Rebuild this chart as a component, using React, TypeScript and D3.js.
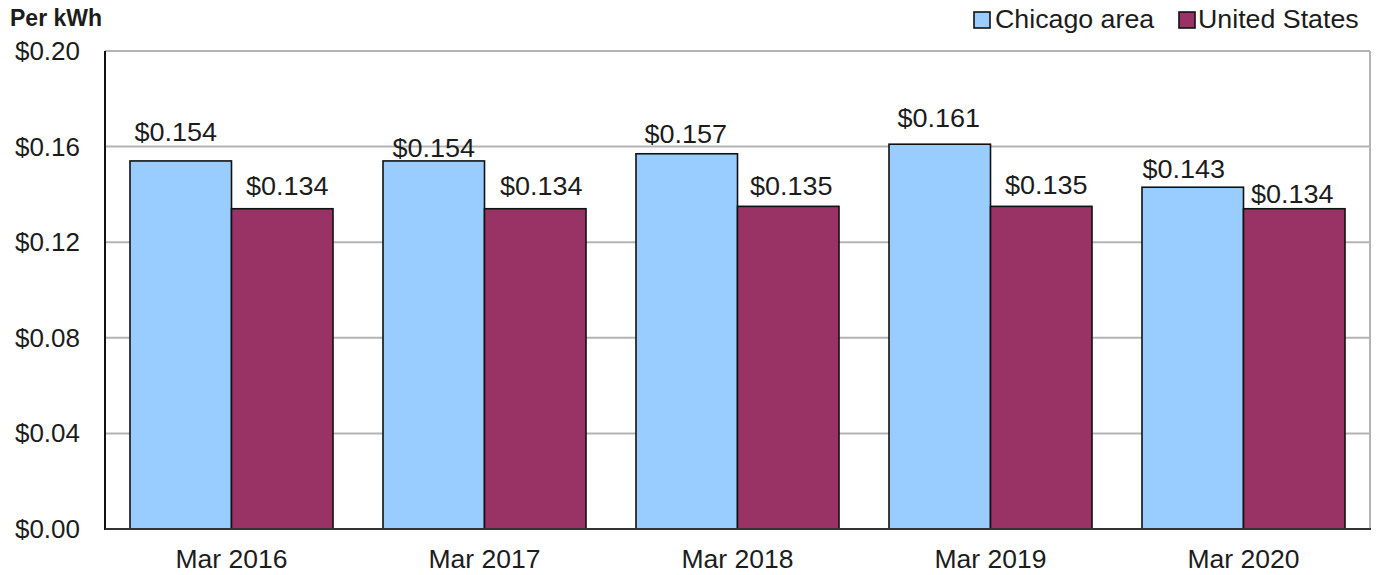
import React from "react";
import * as d3 from "d3";

const categories = ["Mar 2016", "Mar 2017", "Mar 2018", "Mar 2019", "Mar 2020"];
const seriesNames = ["Chicago area", "United States"];
const chicago = [0.154, 0.154, 0.157, 0.161, 0.143];
const unitedStates = [0.134, 0.134, 0.135, 0.135, 0.134];
const yTicks = [0, 0.04, 0.08, 0.12, 0.16, 0.2];

// label placement nudges (style only): [dx, dy above bar top]
const chicagoNudge = [[-5, -20], [0, -4], [-1, -11], [-1, -17], [-9, -9]];
const usNudge = [[5, -14], [6, -14], [3, -11], [5, -12], [-2, -6]];

const colors = ["#99CCFF", "#993366"];
const W = 1377, H = 575;
const left = 105, right = 1370, top = 51, bottom = 529;
const FONT = "'Liberation Sans', Arial, sans-serif";
const TXT = "#1c1c1c";

export default function App() {
  const x0 = d3.scaleBand<string>().domain(categories).range([left, right]).padding(0);
  const bw = x0.bandwidth();
  const x1 = d3.scaleBand<string>().domain(seriesNames).range([25, bw - 25]).padding(0);
  const y = d3.scaleLinear().domain([0, 0.2]).range([bottom, top]);
  const values = [chicago, unitedStates];
  const nudges = [chicagoNudge, usNudge];
  const fmt = (v: number) => "$" + v.toFixed(3);
  const fmtTick = (v: number) => "$" + v.toFixed(2);

  return (
    <svg width={W} height={H} style={{ position: "absolute", left: 0, top: 0, background: "#fff" }} fontFamily={FONT}>
      <rect x={0} y={0} width={W} height={H} fill="#fff" />
      {/* gridlines */}
      {yTicks.filter((t) => t > 0).map((t) => (
        <line key={t} x1={left} x2={right} y1={y(t)} y2={y(t)} stroke="#b4b4b4" strokeWidth={2} />
      ))}
      <line x1={right} x2={right} y1={top} y2={bottom} stroke="#b4b4b4" strokeWidth={2} />
      {/* bars */}
      {values.map((vals, si) =>
        vals.map((v, i) => {
          const bx = (x0(categories[i]) as number) + (x1(seriesNames[si]) as number);
          return (
            <rect key={si + "-" + i} x={bx} y={y(v)} width={x1.bandwidth()} height={bottom - y(v)}
              fill={colors[si]} stroke="#111" strokeWidth={1.6} />
          );
        })
      )}
      {/* axes */}
      <line x1={left} x2={left} y1={top} y2={bottom + 1} stroke="#111" strokeWidth={2} />
      <line x1={left} x2={right + 1} y1={bottom} y2={bottom} stroke="#333" strokeWidth={2} />
      {/* y tick labels */}
      {yTicks.map((t) => (
        <text key={t} x={80} y={y(t) + 9} textAnchor="end" fontSize={26} fill={TXT}>{fmtTick(t)}</text>
      ))}
      {/* x labels */}
      {categories.map((c) => (
        <text key={c} transform={`translate(${(x0(c) as number) + bw / 2},568) scale(1.02,1)`} textAnchor="middle" fontSize={26} fill={TXT}>{c}</text>
      ))}
      {/* value labels */}
      {values.map((vals, si) =>
        vals.map((v, i) => {
          const cx = (x0(categories[i]) as number) + (x1(seriesNames[si]) as number) + x1.bandwidth() / 2 + nudges[si][i][0];
          const cy = y(v) + nudges[si][i][1];
          return (
            <text key={"l" + si + "-" + i} transform={`translate(${cx},${cy}) scale(1.04,1)`} textAnchor="middle" fontSize={26} fill={TXT}>{fmt(v)}</text>
          );
        })
      )}
      {/* title */}
      <text x={10} y={26} fontSize={23} fontWeight="bold" fill={TXT}>Per kWh</text>
      {/* legend */}
      <rect x={974} y={12} width={16} height={16} fill={colors[0]} stroke="#111" strokeWidth={1.6} />
      <text transform="translate(995,28) scale(1.03,1)" fontSize={26} fill={TXT}>{seriesNames[0]}</text>
      <rect x={1179} y={12} width={16} height={16} fill={colors[1]} stroke="#111" strokeWidth={1.6} />
      <text transform="translate(1198,28) scale(1.03,1)" fontSize={26} fill={TXT}>{seriesNames[1]}</text>
    </svg>
  );
}
